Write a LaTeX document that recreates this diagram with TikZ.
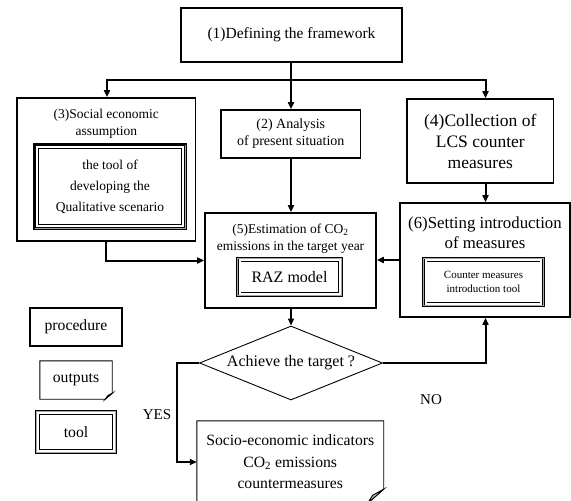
\documentclass[tikz,border=0pt]{standalone}
\usepackage{fontspec}
\setmainfont{Liberation Serif}
\usetikzlibrary{arrows.meta,shapes.geometric,calc}
\begin{document}
\begin{tikzpicture}[x=1pt,y=-1pt,
  box/.style={draw, line width=1.7pt, rectangle, inner sep=0pt},
  toolbox/.style={rectangle, inner sep=0pt, fill=white, draw=black, line width=0.7pt,
     double=white, double distance=2pt,
     preaction={draw=black, line width=7.4pt},
     preaction={draw=gray!70, line width=5pt}},
  docln/.style={line width=0.9pt, line join=miter},
  arr/.style={line width=2pt, -{Triangle[length=7pt,width=6pt]}},
  ln/.style={line width=2pt},
  txt/.style={align=center, inner sep=0pt},
  lbl/.style={inner sep=0pt, font=\fontsize{15}{18}\selectfont}]
\useasboundingbox (0,0) rectangle (571,501);

% procedure boxes
\node[box, minimum width=221, minimum height=54, font=\fontsize{15.5}{18}\selectfont] (b1) at (291.5,35) {(1)Defining the framework};
\node[box, minimum width=139.5, minimum height=48, align=center, font=\fontsize{14}{17}\selectfont] (b2) at (290.75,134) {(2) Analysis\\of present situation};
\node[box, minimum width=178.6, minimum height=143] (b3) at (106.3,169.5) {};
\node[txt, font=\fontsize{13.5}{17}\selectfont] (b3t) at (106.3,123.5) {(3)Social economic\\assumption};
\node[toolbox, minimum width=146, minimum height=79, align=center, font=\fontsize{13.5}{21}\selectfont] (t3) at (110,186.5) {the tool of\\developing the\\Qualitative scenario};
\node[box, minimum width=146.6, minimum height=84, align=center, font=\fontsize{17.5}{21}\selectfont] (b4) at (480.3,141) {(4)Collection of\\LCS counter\\measures};
\node[box, minimum width=171, minimum height=95] (b5) at (290.5,260.5) {};
\node[txt, font=\fontsize{13.5}{17}\selectfont] (b5t) at (290.5,238.5) {(5)Estimation of CO\textsubscript{2}\\emissions in the target year};
\node[toolbox, minimum width=100, minimum height=33.5, font=\fontsize{16}{19}\selectfont] (t5) at (289.5,277) {RAZ model};
\node[box, minimum width=170, minimum height=114] (b6) at (485,260) {};
\node[txt, font=\fontsize{16.8}{19.5}\selectfont] (b6t) at (485,232.5) {(6)Setting introduction\\of measures};
\node[toolbox, minimum width=115.5, minimum height=43.5, align=center, font=\fontsize{11}{14}\selectfont] (t6) at (483.5,282) {Counter measures\\introduction tool};

% decision
\node[draw, line width=0.9pt, diamond, aspect=2.5, minimum width=183, minimum height=74, inner sep=0pt, font=\fontsize{16}{19}\selectfont] (d) at (291,363) {Achieve the target ?};

% output
\node[inner sep=0pt, minimum width=186.5, minimum height=82, align=center, font=\fontsize{15.7}{21.5}\selectfont] (out) at (290.25,462) {Socio-economic indicators\\CO\textsubscript{2} emissions\\countermeasures};
\draw[docln] (out.north west) -- (out.north east) -- ($(out.south east)+(0,14pt)$) -- ($(out.south east)+(-16pt,0)$) -- (out.south west) -- cycle;
\filldraw[docln, fill=gray!50] ($(out.south east)+(0,14pt)$) -- ($(out.south east)+(-16pt,0)$) -- ($(out.south east)+(-11pt,8pt)$) -- cycle;

% legend
\node[box, minimum width=92, minimum height=38, font=\fontsize{15.7}{18}\selectfont] (lp) at (76,327) {procedure};
\node[inner sep=0pt, minimum width=72, minimum height=38, font=\fontsize{15.7}{18}\selectfont] (lo) at (76,380) {outputs};
\draw[docln] (lo.north west) -- (lo.north east) -- ($(lo.south east)+(0,6pt)$) -- ($(lo.south east)+(-7pt,0)$) -- (lo.south west) -- cycle;
\filldraw[docln, fill=gray!50] ($(lo.south east)+(0,6pt)$) -- ($(lo.south east)+(-7pt,0)$) -- ($(lo.south east)+(-4.5pt,3.5pt)$) -- cycle;
\node[toolbox, minimum width=75.5, minimum height=37.5, font=\fontsize{15.7}{18}\selectfont] (lt) at (76,432) {tool};

% connectors
\coordinate (jl) at (107,80);
\coordinate (jm) at (291,80);
\coordinate (jr) at (485.5,80);
\draw[ln] (b1.south -| jm) -- (jm);
\draw[ln, line cap=rect] (jl) -- (jr);
\draw[arr] (jl) -- (jl |- b3.north);
\draw[arr] (jm) -- (jm |- b2.north);
\draw[arr] (jr) -- (jr |- b4.north);
\draw[arr] (b2.south -| jm) -- (jm |- b5.north);
\coordinate (c3) at (105.6,241);
\draw[arr] (b3.south -| c3) |- (b5.west);
\draw[arr] (b6.west) -- (b6.west -| b5.east);
\draw[arr] (jr |- b4.south) -- (jr |- b6.north);
\draw[arr] (b5.south -| d.north) -- (d.north);
\draw[arr] (d.east) -- (d.east -| jr) -- (jr |- b6.south);
\coordinate (yc) at (177,363);
\draw[arr] (d.west) -- (yc) |- (out.west);

\node[lbl] (yes) at (157,415) {YES};
\node[lbl] (no) at (431,400) {NO};
\end{tikzpicture}
\end{document}
